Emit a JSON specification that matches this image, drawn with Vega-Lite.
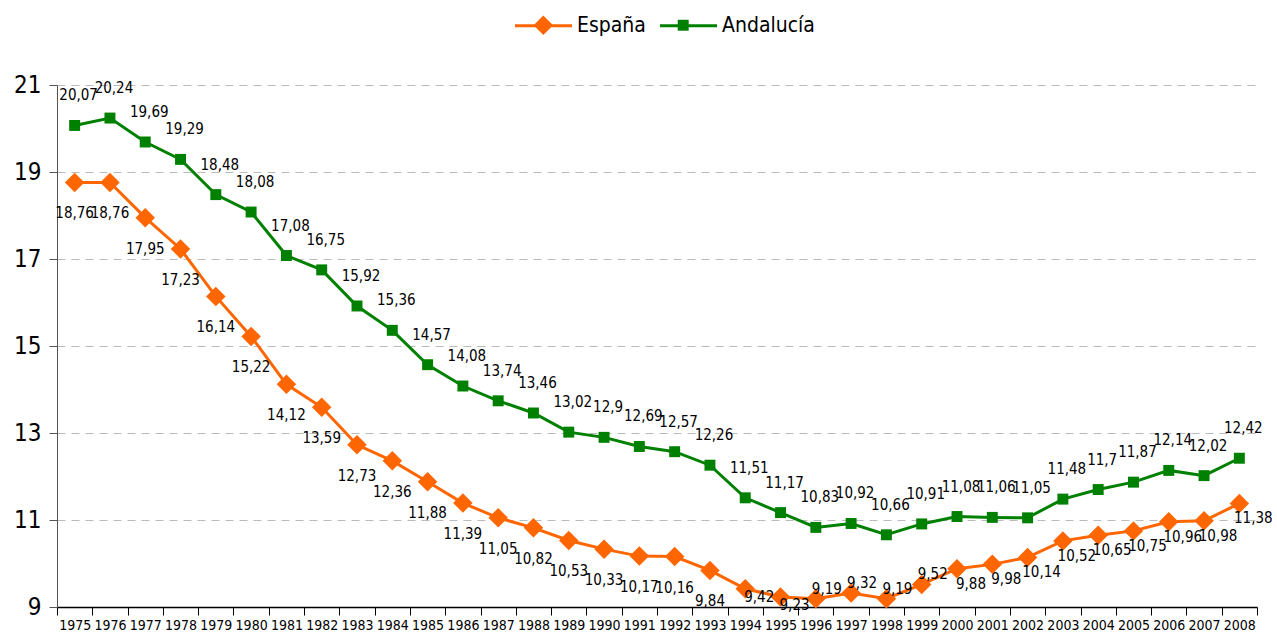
{
  "$schema": "https://vega.github.io/schema/vega-lite/v6.json",
  "width": 1200,
  "height": 522,
  "autosize": {"type": "none"},
  "padding": {"left": 57, "top": 85, "right": 20, "bottom": 30},
  "background": "white",
  "config": {
    "view": {"stroke": null},
    "locale": {"number": {"decimal": ",", "thousands": ".", "grouping": [3], "currency": ["", " €"]}},
    "font": "DejaVu Sans Condensed, Liberation Sans, sans-serif"
  },
  "resolve": {"scale": {"color": "independent", "shape": "independent", "size": "independent"}},
  "data": {
    "values": [
      {"year": 1975, "serie": "España", "value": 18.76},
      {"year": 1976, "serie": "España", "value": 18.76},
      {"year": 1977, "serie": "España", "value": 17.95},
      {"year": 1978, "serie": "España", "value": 17.23},
      {"year": 1979, "serie": "España", "value": 16.14},
      {"year": 1980, "serie": "España", "value": 15.22},
      {"year": 1981, "serie": "España", "value": 14.12},
      {"year": 1982, "serie": "España", "value": 13.59},
      {"year": 1983, "serie": "España", "value": 12.73},
      {"year": 1984, "serie": "España", "value": 12.36},
      {"year": 1985, "serie": "España", "value": 11.88},
      {"year": 1986, "serie": "España", "value": 11.39},
      {"year": 1987, "serie": "España", "value": 11.05},
      {"year": 1988, "serie": "España", "value": 10.82},
      {"year": 1989, "serie": "España", "value": 10.53},
      {"year": 1990, "serie": "España", "value": 10.33},
      {"year": 1991, "serie": "España", "value": 10.17},
      {"year": 1992, "serie": "España", "value": 10.16},
      {"year": 1993, "serie": "España", "value": 9.84},
      {"year": 1994, "serie": "España", "value": 9.42},
      {"year": 1995, "serie": "España", "value": 9.23},
      {"year": 1996, "serie": "España", "value": 9.19},
      {"year": 1997, "serie": "España", "value": 9.32},
      {"year": 1998, "serie": "España", "value": 9.19},
      {"year": 1999, "serie": "España", "value": 9.52},
      {"year": 2000, "serie": "España", "value": 9.88},
      {"year": 2001, "serie": "España", "value": 9.98},
      {"year": 2002, "serie": "España", "value": 10.14},
      {"year": 2003, "serie": "España", "value": 10.52},
      {"year": 2004, "serie": "España", "value": 10.65},
      {"year": 2005, "serie": "España", "value": 10.75},
      {"year": 2006, "serie": "España", "value": 10.96},
      {"year": 2007, "serie": "España", "value": 10.98},
      {"year": 2008, "serie": "España", "value": 11.38},
      {"year": 1975, "serie": "Andalucía", "value": 20.07},
      {"year": 1976, "serie": "Andalucía", "value": 20.24},
      {"year": 1977, "serie": "Andalucía", "value": 19.69},
      {"year": 1978, "serie": "Andalucía", "value": 19.29},
      {"year": 1979, "serie": "Andalucía", "value": 18.48},
      {"year": 1980, "serie": "Andalucía", "value": 18.08},
      {"year": 1981, "serie": "Andalucía", "value": 17.08},
      {"year": 1982, "serie": "Andalucía", "value": 16.75},
      {"year": 1983, "serie": "Andalucía", "value": 15.92},
      {"year": 1984, "serie": "Andalucía", "value": 15.36},
      {"year": 1985, "serie": "Andalucía", "value": 14.57},
      {"year": 1986, "serie": "Andalucía", "value": 14.08},
      {"year": 1987, "serie": "Andalucía", "value": 13.74},
      {"year": 1988, "serie": "Andalucía", "value": 13.46},
      {"year": 1989, "serie": "Andalucía", "value": 13.02},
      {"year": 1990, "serie": "Andalucía", "value": 12.9},
      {"year": 1991, "serie": "Andalucía", "value": 12.69},
      {"year": 1992, "serie": "Andalucía", "value": 12.57},
      {"year": 1993, "serie": "Andalucía", "value": 12.26},
      {"year": 1994, "serie": "Andalucía", "value": 11.51},
      {"year": 1995, "serie": "Andalucía", "value": 11.17},
      {"year": 1996, "serie": "Andalucía", "value": 10.83},
      {"year": 1997, "serie": "Andalucía", "value": 10.92},
      {"year": 1998, "serie": "Andalucía", "value": 10.66},
      {"year": 1999, "serie": "Andalucía", "value": 10.91},
      {"year": 2000, "serie": "Andalucía", "value": 11.08},
      {"year": 2001, "serie": "Andalucía", "value": 11.06},
      {"year": 2002, "serie": "Andalucía", "value": 11.05},
      {"year": 2003, "serie": "Andalucía", "value": 11.48},
      {"year": 2004, "serie": "Andalucía", "value": 11.7},
      {"year": 2005, "serie": "Andalucía", "value": 11.87},
      {"year": 2006, "serie": "Andalucía", "value": 12.14},
      {"year": 2007, "serie": "Andalucía", "value": 12.02},
      {"year": 2008, "serie": "Andalucía", "value": 12.42}
    ]
  },
  "encoding": {
    "x": {
      "field": "year",
      "type": "ordinal",
      "scale": {"type": "band", "paddingInner": 0, "paddingOuter": 0},
      "axis": {
        "title": null,
        "labelAngle": 0,
        "labelFontSize": 14,
        "labelColor": "black",
        "labelPadding": 3,
        "tickBand": "extent",
        "tickSize": 8,
        "tickColor": "black",
        "tickWidth": 1,
        "domainColor": "black",
        "domainWidth": 1.5,
        "grid": false,
        "encode": {
          "ticks": {"update": {"strokeOpacity": {"signal": "(+datum.value) % 2 == 1 ? 1 : 0"}}}
        }
      }
    },
    "y": {
      "field": "value",
      "type": "quantitative",
      "scale": {"domain": [9, 21], "nice": false, "zero": false},
      "axis": {
        "title": null,
        "values": [9, 11, 13, 15, 17, 19, 21],
        "labelFontSize": 24,
        "labelColor": "black",
        "labelPadding": 8,
        "tickSize": 8,
        "tickColor": "#555555",
        "domainColor": "#555555",
        "domainWidth": 1,
        "grid": true,
        "gridColor": "#bbbbbb",
        "gridDash": [8, 6],
        "gridWidth": 1
      }
    }
  },
  "layer": [
    {
      "mark": {"type": "line", "strokeWidth": 3},
      "encoding": {
        "color": {"field": "serie", "type": "nominal",
          "scale": {"domain": ["España", "Andalucía"], "range": ["#FF6600", "#008000"]},
          "legend": {
            "title": null,
            "orient": "none",
            "legendX": 456,
            "legendY": -90,
            "direction": "horizontal",
            "symbolType": "stroke",
            "symbolSize": 3250,
            "symbolStrokeWidth": 3,
            "labelFontSize": 21,
            "labelColor": "black",
            "labelOffset": 3,
            "columnPadding": 7
          }
        }
      }
    },
    {
      "mark": {"type": "point", "filled": true, "opacity": 1},
      "encoding": {
        "color": {"field": "serie", "type": "nominal",
          "scale": {"domain": ["España", "Andalucía"], "range": ["#FF6600", "#008000"]},
          "legend": {
            "title": null,
            "orient": "none",
            "legendX": 475.84,
            "legendY": -70.5,
            "direction": "horizontal",
            "labelFontSize": 21,
            "labelColor": "black",
            "labelOpacity": 0,
            "labelOffset": 22.84,
            "columnPadding": 26.86,
            "symbolSize": 300,
            "symbolStrokeWidth": 0,
            "symbolOpacity": 1
          }
        },
        "shape": {"field": "serie", "type": "nominal",
          "scale": {"domain": ["España", "Andalucía"], "range": ["diamond", "square"]}},
        "size": {"field": "serie", "type": "nominal", "legend": null,
          "scale": {"domain": ["España", "Andalucía"], "range": [380, 120]}}
      }
    },
    {
      "transform": [{"filter": "datum.serie == 'España' && datum.year <= 1993"}],
      "mark": {"type": "text", "dy": 31, "dx": 0, "fontSize": 15, "color": "black"},
      "encoding": {"text": {"field": "value", "type": "quantitative", "format": ".4~g"}}
    },
    {
      "transform": [{"filter": "datum.serie == 'España' && datum.year >= 1994 && datum.year <= 1995"}],
      "mark": {"type": "text", "dy": 8, "dx": 14, "fontSize": 15, "color": "black"},
      "encoding": {"text": {"field": "value", "type": "quantitative", "format": ".4~g"}}
    },
    {
      "transform": [{"filter": "datum.serie == 'España' && datum.year >= 1996 && datum.year <= 1999"}],
      "mark": {"type": "text", "dy": -10, "dx": 11, "fontSize": 15, "color": "black"},
      "encoding": {"text": {"field": "value", "type": "quantitative", "format": ".4~g"}}
    },
    {
      "transform": [{"filter": "datum.serie == 'España' && datum.year >= 2000"}],
      "mark": {"type": "text", "dy": 15, "dx": 14, "fontSize": 15, "color": "black"},
      "encoding": {"text": {"field": "value", "type": "quantitative", "format": ".4~g"}}
    },
    {
      "transform": [{"filter": "datum.serie == 'Andalucía'"}],
      "mark": {"type": "text", "dy": -30, "dx": 4, "fontSize": 15, "color": "black"},
      "encoding": {"text": {"field": "value", "type": "quantitative", "format": ".4~g"}}
    }
  ]
}
